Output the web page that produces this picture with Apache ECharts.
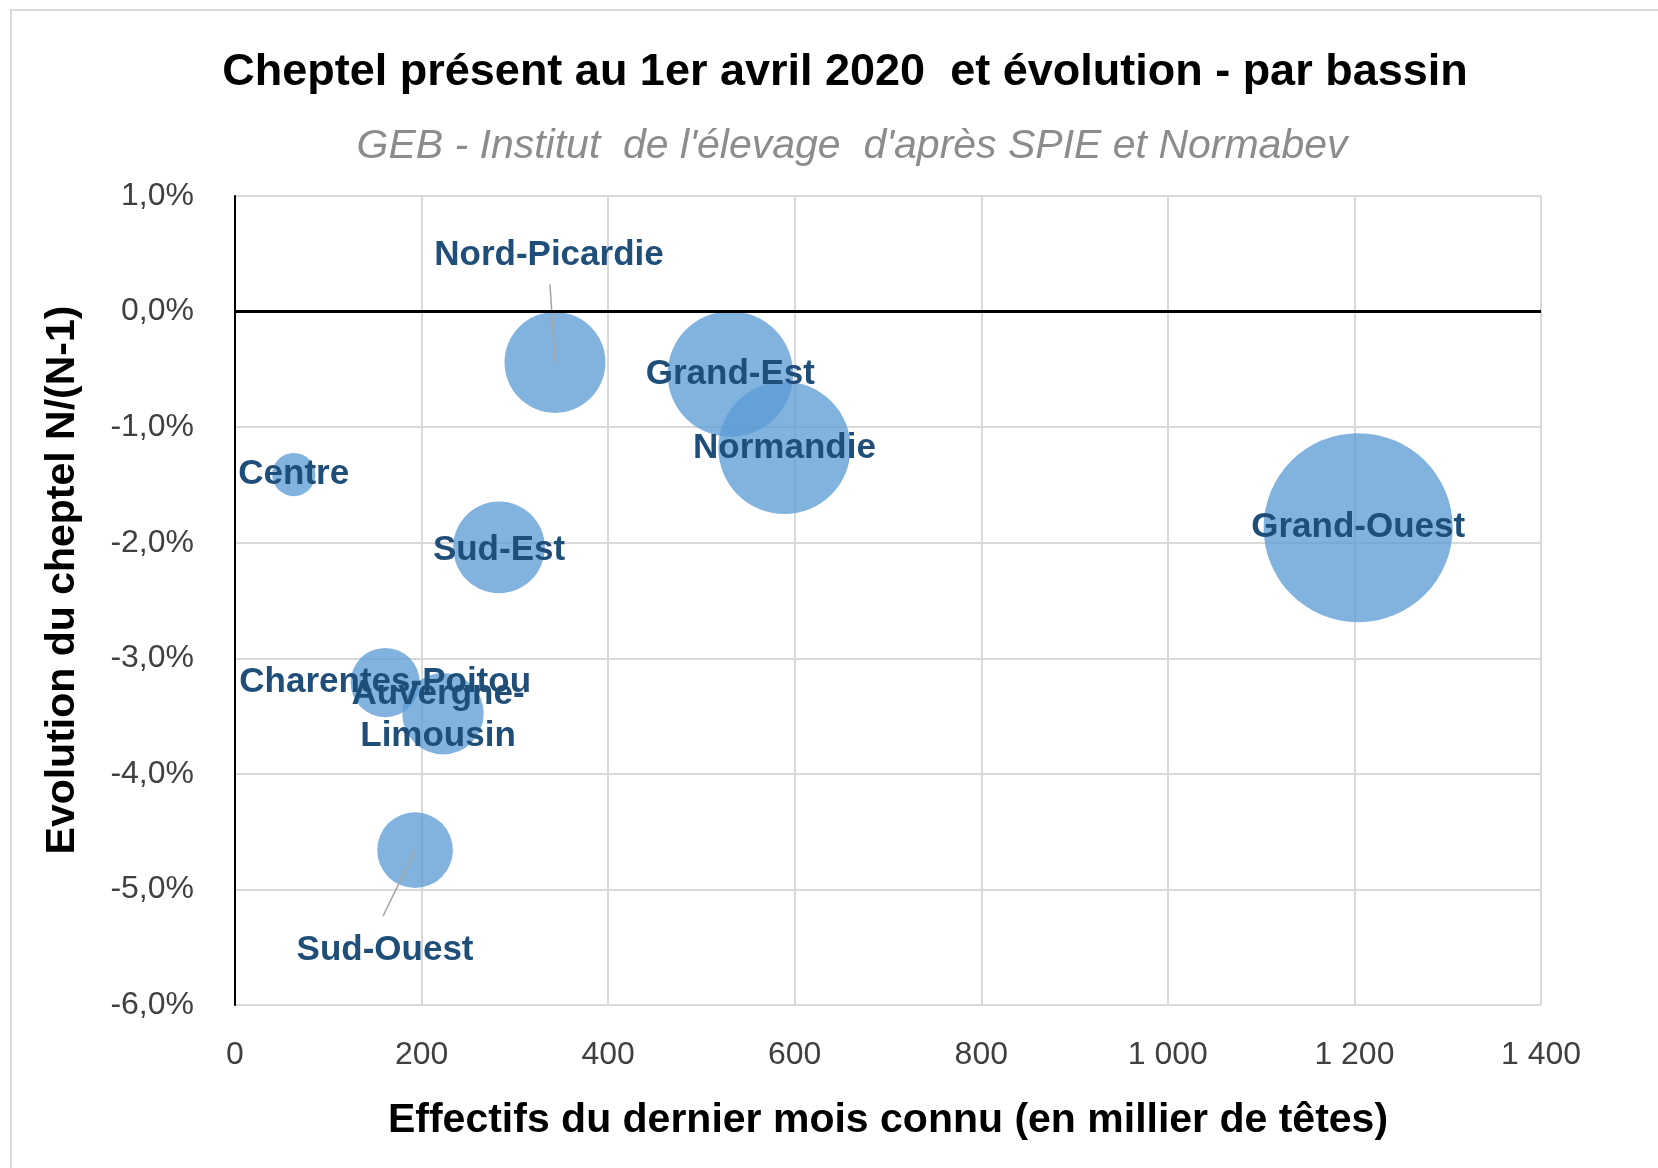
<!DOCTYPE html>
<html>
<head>
<meta charset="utf-8">
<script src="https://cdn.jsdelivr.net/npm/echarts@6/dist/echarts.min.js"></script>
<style>
  html, body { margin: 0; padding: 0; background: #fff; }
  #main { width: 1658px; height: 1168px; }
</style>
</head>
<body>
<div id="main"></div>
<script>
// bassins, effectifs (milliers de têtes) et évolution N/(N-1) en %
var regions = ['Nord-Picardie', 'Grand-Est', 'Normandie', 'Grand-Ouest', 'Centre',
               'Sud-Est', 'Charentes-Poitou', 'Auvergne-Limousin', 'Sud-Ouest'];
var labelNames = ['Nord-Picardie', 'Grand-Est', 'Normandie', 'Grand-Ouest', 'Centre',
                  'Sud-Est', 'Charentes-Poitou', 'Auvergne-\nLimousin', 'Sud-Ouest'];
var effectifs = [343, 531, 589, 1204, 63, 283, 161, 223, 193];
var evolution = [-0.44, -0.54, -1.18, -1.87, -1.41, -2.04, -3.21, -3.48, -4.66];

// placement des étiquettes (px)
var labelOffsets = {
    'Nord-Picardie': [-6, -107],
    'Sud-Ouest': [-30, 100],
    'Sud-Est': [0, 3],
    'Auvergne-Limousin': [-5, 2]
};
var guideEnds = {
    'Nord-Picardie': [-5, -78],
    'Sud-Ouest': [-32, 66]
};

var FONT = "'Liberation Sans', Arial, sans-serif";

var myChart = echarts.init(document.getElementById('main'));

var bubbleData = regions.map(function (name, i) {
    return {
        name: name,
        value: [effectifs[i], evolution[i]],
        label: { offset: labelOffsets[name] || [0, 0] }
    };
});

var guideData = regions.filter(function (name) {
    return guideEnds[name];
}).map(function (name) {
    var i = regions.indexOf(name);
    return { name: name, value: [effectifs[i], evolution[i]] };
});

option = {
    backgroundColor: '#fff',
    animation: false,
    textStyle: { fontFamily: FONT },
    title: [{
        text: 'Cheptel présent au 1er avril 2020  et évolution - par bassin',
        left: 840,
        textAlign: 'center',
        top: 45,
        textStyle: { fontSize: 45, fontWeight: 'bold', color: '#000', fontFamily: FONT }
    }, {
        text: "GEB - Institut  de l'élevage  d'après SPIE et Normabev",
        left: 847,
        textAlign: 'center',
        top: 121,
        textStyle: { fontSize: 41, fontWeight: 'normal', fontStyle: 'italic', color: '#8c8c8c', fontFamily: FONT }
    }],
    graphic: [{
        type: 'rect',
        shape: { x: 11, y: 10, width: 1700, height: 1200 },
        style: { fill: 'none', stroke: '#d9d9d9', lineWidth: 2 },
        silent: true
    }, {
        type: 'text',
        x: 63,
        y: 580,
        rotation: Math.PI / 2,
        style: {
            text: 'Evolution du cheptel N/(N-1)',
            font: 'bold 41px ' + FONT,
            fill: '#000',
            align: 'center',
            verticalAlign: 'middle'
        },
        silent: true
    }],
    grid: {
        left: 235,
        right: 117,
        top: 196,
        bottom: 163
    },
    xAxis: {
        type: 'value',
        min: 0,
        max: 1400,
        interval: 200,
        name: 'Effectifs du dernier mois connu (en millier de têtes)',
        nameLocation: 'middle',
        nameGap: 95,
        nameTextStyle: { fontSize: 41, fontWeight: 'bold', color: '#000', fontFamily: FONT },
        axisLine: { show: false },
        axisTick: { show: false },
        axisLabel: {
            fontSize: 32,
            color: '#404040',
            margin: 34,
            formatter: function (v) {
                return String(v).replace(/\B(?=(\d{3})+(?!\d))/g, ' ');
            }
        },
        splitLine: { show: true, lineStyle: { color: '#d9d9d9', width: 2 } }
    },
    yAxis: {
        type: 'value',
        min: -6,
        max: 1,
        interval: 1,
        axisLine: { show: true, lineStyle: { color: '#000', width: 2 } },
        axisTick: { show: false },
        axisLabel: {
            fontSize: 32,
            color: '#404040',
            margin: 41,
            formatter: function (v) {
                var s = Math.abs(v) < 1e-9 ? '0,0' : v.toFixed(1).replace('.', ',');
                return s + '%';
            }
        },
        splitLine: { show: true, lineStyle: { color: '#d9d9d9', width: 2 } }
    },
    series: [{
        type: 'scatter',
        data: bubbleData,
        symbolSize: function (val) {
            return 5.45 * Math.sqrt(val[0]);
        },
        itemStyle: { color: 'rgba(91,155,213,0.76)', opacity: 1 },
        label: {
            show: true,
            position: 'inside',
            formatter: function (p) {
                return labelNames[p.dataIndex];
            },
            color: '#1F4E79',
            fontWeight: 'bold',
            fontSize: 35,
            lineHeight: 42,
            fontFamily: FONT
        },
        emphasis: { disabled: true },
        markLine: {
            silent: true,
            symbol: 'none',
            label: { show: false },
            lineStyle: { color: '#000', width: 3, type: 'solid' },
            data: [{ yAxis: 0 }]
        },
        z: 3
    }, {
        type: 'custom',
        data: guideData,
        silent: true,
        z: 4,
        renderItem: function (params, api) {
            var p = api.coord([api.value(0), api.value(1)]);
            var d = guideEnds[guideData[params.dataIndex].name];
            return {
                type: 'line',
                shape: { x1: p[0], y1: p[1], x2: p[0] + d[0], y2: p[1] + d[1] },
                style: { stroke: '#a6a6a6', lineWidth: 1.5 }
            };
        }
    }]
};

myChart.setOption(option);
</script>
</body>
</html>
